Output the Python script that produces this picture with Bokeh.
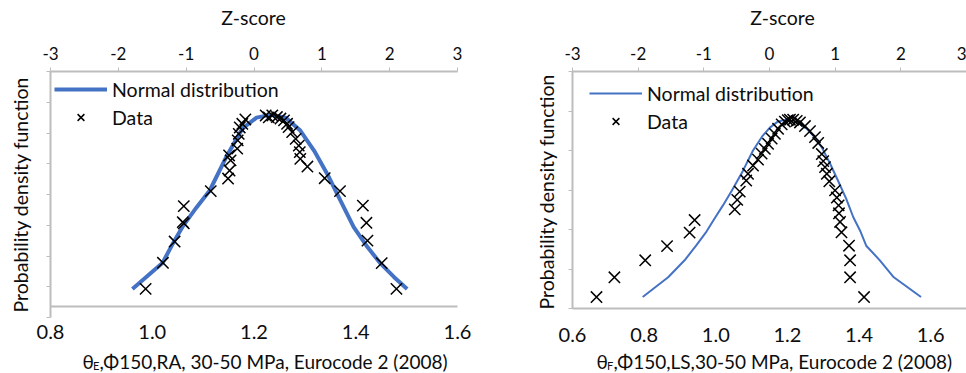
import math
from bokeh.plotting import figure
from bokeh.models import (Range1d, LinearAxis, FixedTicker, Label,
                          Legend, LegendItem)
from bokeh.layouts import row
from bokeh.embed import file_html
from bokeh.resources import INLINE

FONT = "Lato"
TEXT = "#0d0d0d"
AXIS_GREY = "#bdbdbd"
BLUE = "#4472c4"
W, H = 483, 373

# ---- θE, Φ150, RA : measured points (θ, relative density)
ra_theta = [0.987, 1.021, 1.044, 1.060, 1.062, 1.062, 1.115, 1.149, 1.152,
            1.154, 1.151, 1.167, 1.168, 1.170, 1.172, 1.177, 1.183, 1.223,
            1.229, 1.236, 1.245, 1.252, 1.259, 1.265, 1.268, 1.275, 1.282,
            1.288, 1.290, 1.291, 1.305, 1.339, 1.369, 1.414, 1.421, 1.423,
            1.451, 1.480]
ra_pdf = [0.93, 1.78, 2.47, 3.10, 3.06, 3.62, 4.11, 4.52, 4.78,
          5.11, 5.27, 5.49, 5.76, 5.97, 6.18, 6.30, 6.44, 6.57,
          6.51, 6.57, 6.52, 6.47, 6.41, 6.30, 6.19, 6.03, 5.81,
          5.59, 5.38, 5.16, 4.91, 4.53, 4.11, 3.64, 3.08, 2.50,
          1.77, 0.93]

# fitted normal distribution for the RA set
ra_fit_theta = [0.961, 1.020, 1.042, 1.061, 1.087, 1.113, 1.147, 1.177, 1.205,
                1.232, 1.262, 1.291, 1.318, 1.344, 1.370, 1.396, 1.423, 1.449,
                1.475, 1.501]
ra_fit_pdf = [0.93, 1.77, 2.45, 2.99, 3.58, 4.13, 5.27, 6.14, 6.50,
              6.59, 6.50, 6.08, 5.43, 4.67, 3.80, 2.94, 2.29, 1.75,
              1.32, 0.93]

# ---- θF, Φ150, LS : measured points (θ, relative density)
ls_theta = [0.667, 0.717, 0.803, 0.864, 0.927, 0.941, 1.053, 1.060, 1.067,
            1.085, 1.090, 1.104, 1.118, 1.128, 1.137, 1.146, 1.156, 1.165,
            1.174, 1.184, 1.193, 1.201, 1.207, 1.216, 1.226, 1.235, 1.249,
            1.263, 1.277, 1.286, 1.296, 1.300, 1.305, 1.310, 1.317, 1.333,
            1.338, 1.343, 1.344, 1.347, 1.351, 1.372, 1.375, 1.375, 1.414]
ls_pdf = [0.29, 0.79, 1.22, 1.58, 1.92, 2.24, 2.51, 2.75, 2.96,
          3.24, 3.41, 3.62, 3.77, 3.92, 4.04, 4.17, 4.30, 4.42,
          4.55, 4.66, 4.73, 4.77, 4.78, 4.78, 4.75, 4.71, 4.62,
          4.49, 4.34, 4.19, 3.91, 3.73, 3.58, 3.41, 3.22, 2.99,
          2.81, 2.61, 2.41, 2.19, 1.93, 1.59, 1.22, 0.79, 0.29]

# fitted normal distribution for the LS set
ls_fit_theta = [0.796, 0.867, 0.913, 0.945, 0.972, 0.994, 1.020, 1.045, 1.076,
                1.104, 1.129, 1.151, 1.173, 1.190, 1.207, 1.227, 1.254, 1.277,
                1.296, 1.319, 1.341, 1.364, 1.384, 1.403, 1.420, 1.458, 1.497,
                1.573]
ls_fit_pdf = [0.29, 0.79, 1.22, 1.59, 1.92, 2.24, 2.61, 2.99, 3.49,
              4.00, 4.35, 4.58, 4.73, 4.77, 4.75, 4.71, 4.55, 4.33,
              4.08, 3.67, 3.24, 2.78, 2.31, 1.97, 1.59, 1.22, 0.79,
              0.29]

z_ticks = [-3, -2, -1, 0, 1, 2, 3]
ra_x_ticks = [0.8, 1.0, 1.2, 1.4, 1.6]
ls_x_ticks = [0.6, 0.8, 1.0, 1.2, 1.4, 1.6]


def make_panel(theta, pdf, fit_theta, fit_pdf, x_lo, x_hi, y_hi, x_ticks,
               plot_px, fit_width, axis_at, xlabel_sub, xlabel_rest,
               title_x, ytitle_x, ytitle_cy, ztitle_x, legend_pos):
    # The drawing region covers the whole figure; the axes are pinned at
    # fixed data positions so that every label stays inside it.
    px_l, px_r, py_bot = plot_px
    py_top = 71
    kx = (x_hi - x_lo) / (px_r - px_l)
    ky = y_hi / (py_bot - py_top)
    kz = 6.0 / (px_r - px_l)
    p = figure(width=W, height=H, output_backend="svg", toolbar_location=None,
               x_range=Range1d(x_lo - px_l * kx, x_hi + (W - px_r) * kx),
               y_range=Range1d(-(H - py_bot) * ky, y_hi + py_top * ky),
               min_border=0)
    p.extra_x_ranges = {"z": Range1d(-3 - px_l * kz, 3 + (W - px_r) * kz)}
    p.xgrid.visible = False
    p.ygrid.visible = False
    p.outline_line_color = None
    p.background_fill_color = "white"
    p.border_fill_color = "white"

    # θ axis
    xa = p.xaxis[0]
    xa.fixed_location = axis_at
    xa.bounds = (x_lo, x_hi)
    xa.ticker = FixedTicker(ticks=x_ticks)
    xa.major_label_overrides = {t: f"{t:.1f}" for t in x_ticks}
    xa.major_tick_out = 0
    xa.major_tick_in = 0
    xa.minor_tick_line_color = None
    xa.major_tick_line_color = None
    xa.major_label_standoff = 19
    xa.major_label_text_font = FONT
    xa.major_label_text_font_size = "20px"
    xa.major_label_text_color = TEXT
    xa.axis_line_color = AXIS_GREY
    xa.axis_line_width = 2

    # density axis: tick marks only, no values
    ya = p.yaxis[0]
    ya.fixed_location = x_lo
    ya.bounds = (0, y_hi)
    ya.ticker = FixedTicker(ticks=list(range(0, y_hi + 1)))
    ya.major_label_overrides = {i: "" for i in range(0, y_hi + 1)}
    ya.major_label_text_font_size = "10px"
    ya.major_tick_out = 4
    ya.major_tick_in = 0
    ya.major_tick_line_color = AXIS_GREY
    ya.minor_tick_line_color = None
    ya.axis_line_color = AXIS_GREY
    ya.axis_line_width = 2

    # Z-score axis along the top
    za = LinearAxis(x_range_name="z", ticker=FixedTicker(ticks=z_ticks),
                    major_label_overrides={t: str(t) for t in z_ticks})
    za.fixed_location = y_hi
    za.bounds = (-3, 3)
    za.major_label_text_font = FONT
    za.major_label_text_font_size = "17px"
    za.major_label_text_color = TEXT
    za.major_label_standoff = 8
    za.major_tick_out = 4
    za.major_tick_in = 0
    za.major_tick_line_color = AXIS_GREY
    za.minor_tick_line_color = None
    za.axis_line_color = AXIS_GREY
    za.axis_line_width = 2
    p.add_layout(za, "above")

    fit = p.line(fit_theta, fit_pdf, line_color=BLUE, line_width=fit_width)
    pts = p.scatter(theta, pdf, marker="x", size=16, line_color="black",
                    line_width=1.5)

    legend = Legend(items=[LegendItem(label="Normal distribution", renderers=[fit]),
                           LegendItem(label="Data", renderers=[pts])],
                    location=legend_pos, glyph_width=53, glyph_height=24,
                    label_height=24, spacing=4, padding=0, margin=0,
                    border_line_color=None, background_fill_alpha=0,
                    label_text_font=FONT, label_text_font_size="19.5px",
                    label_text_color=TEXT, label_standoff=5)
    p.add_layout(legend)

    common = dict(x_units="screen", y_units="screen", text_font=FONT,
                  text_color=TEXT)
    # axis titles
    p.add_layout(Label(x=ytitle_x, y=H - ytitle_cy, angle=math.pi / 2,
                       text="Probability density function", text_font_size="19.5px",
                       text_align="center", text_baseline="middle", **common))
    p.add_layout(Label(x=ztitle_x, y=H - 17, text="Z-score", text_font_size="19.5px",
                       text_align="center", text_baseline="middle", **common))
    # θ title with a subscript letter
    base = dict(text_baseline="alphabetic", text_align="left", **common)
    p.add_layout(Label(x=title_x, y=12, text="θ", text_font_size="19px", **base))
    p.add_layout(Label(x=title_x + 10.5, y=8, text=xlabel_sub,
                       text_font_size="11px", **base))
    p.add_layout(Label(x=title_x + 17, y=12, text=xlabel_rest,
                       text_font_size="19px", **base))
    return p


left_panel = make_panel(ra_theta, ra_pdf, ra_fit_theta, ra_fit_pdf,
                        0.8, 1.6, 8, ra_x_ticks,
                        plot_px=(50, 457, 317), fit_width=4, axis_at=0.36,
                        xlabel_sub="E",
                        xlabel_rest=",Φ150,RA, 30-50 MPa, Eurocode 2 (2008)",
                        title_x=82, ytitle_x=20, ytitle_cy=194, ztitle_x=253,
                        legend_pos=(54, 244))

right_panel = make_panel(ls_theta, ls_pdf, ls_fit_theta, ls_fit_pdf,
                         0.6, 1.7, 6, ls_x_ticks,
                         plot_px=(89, 483, 308), fit_width=2, axis_at=0,
                         xlabel_sub="F",
                         xlabel_rest=",Φ150,LS,30-50 MPa, Eurocode 2 (2008)",
                         title_x=113, ytitle_x=63, ytitle_cy=191, ztitle_x=299,
                         legend_pos=(106, 240))

layout = row(left_panel, right_panel)
open("out.html", "w").write(file_html(layout, INLINE))
